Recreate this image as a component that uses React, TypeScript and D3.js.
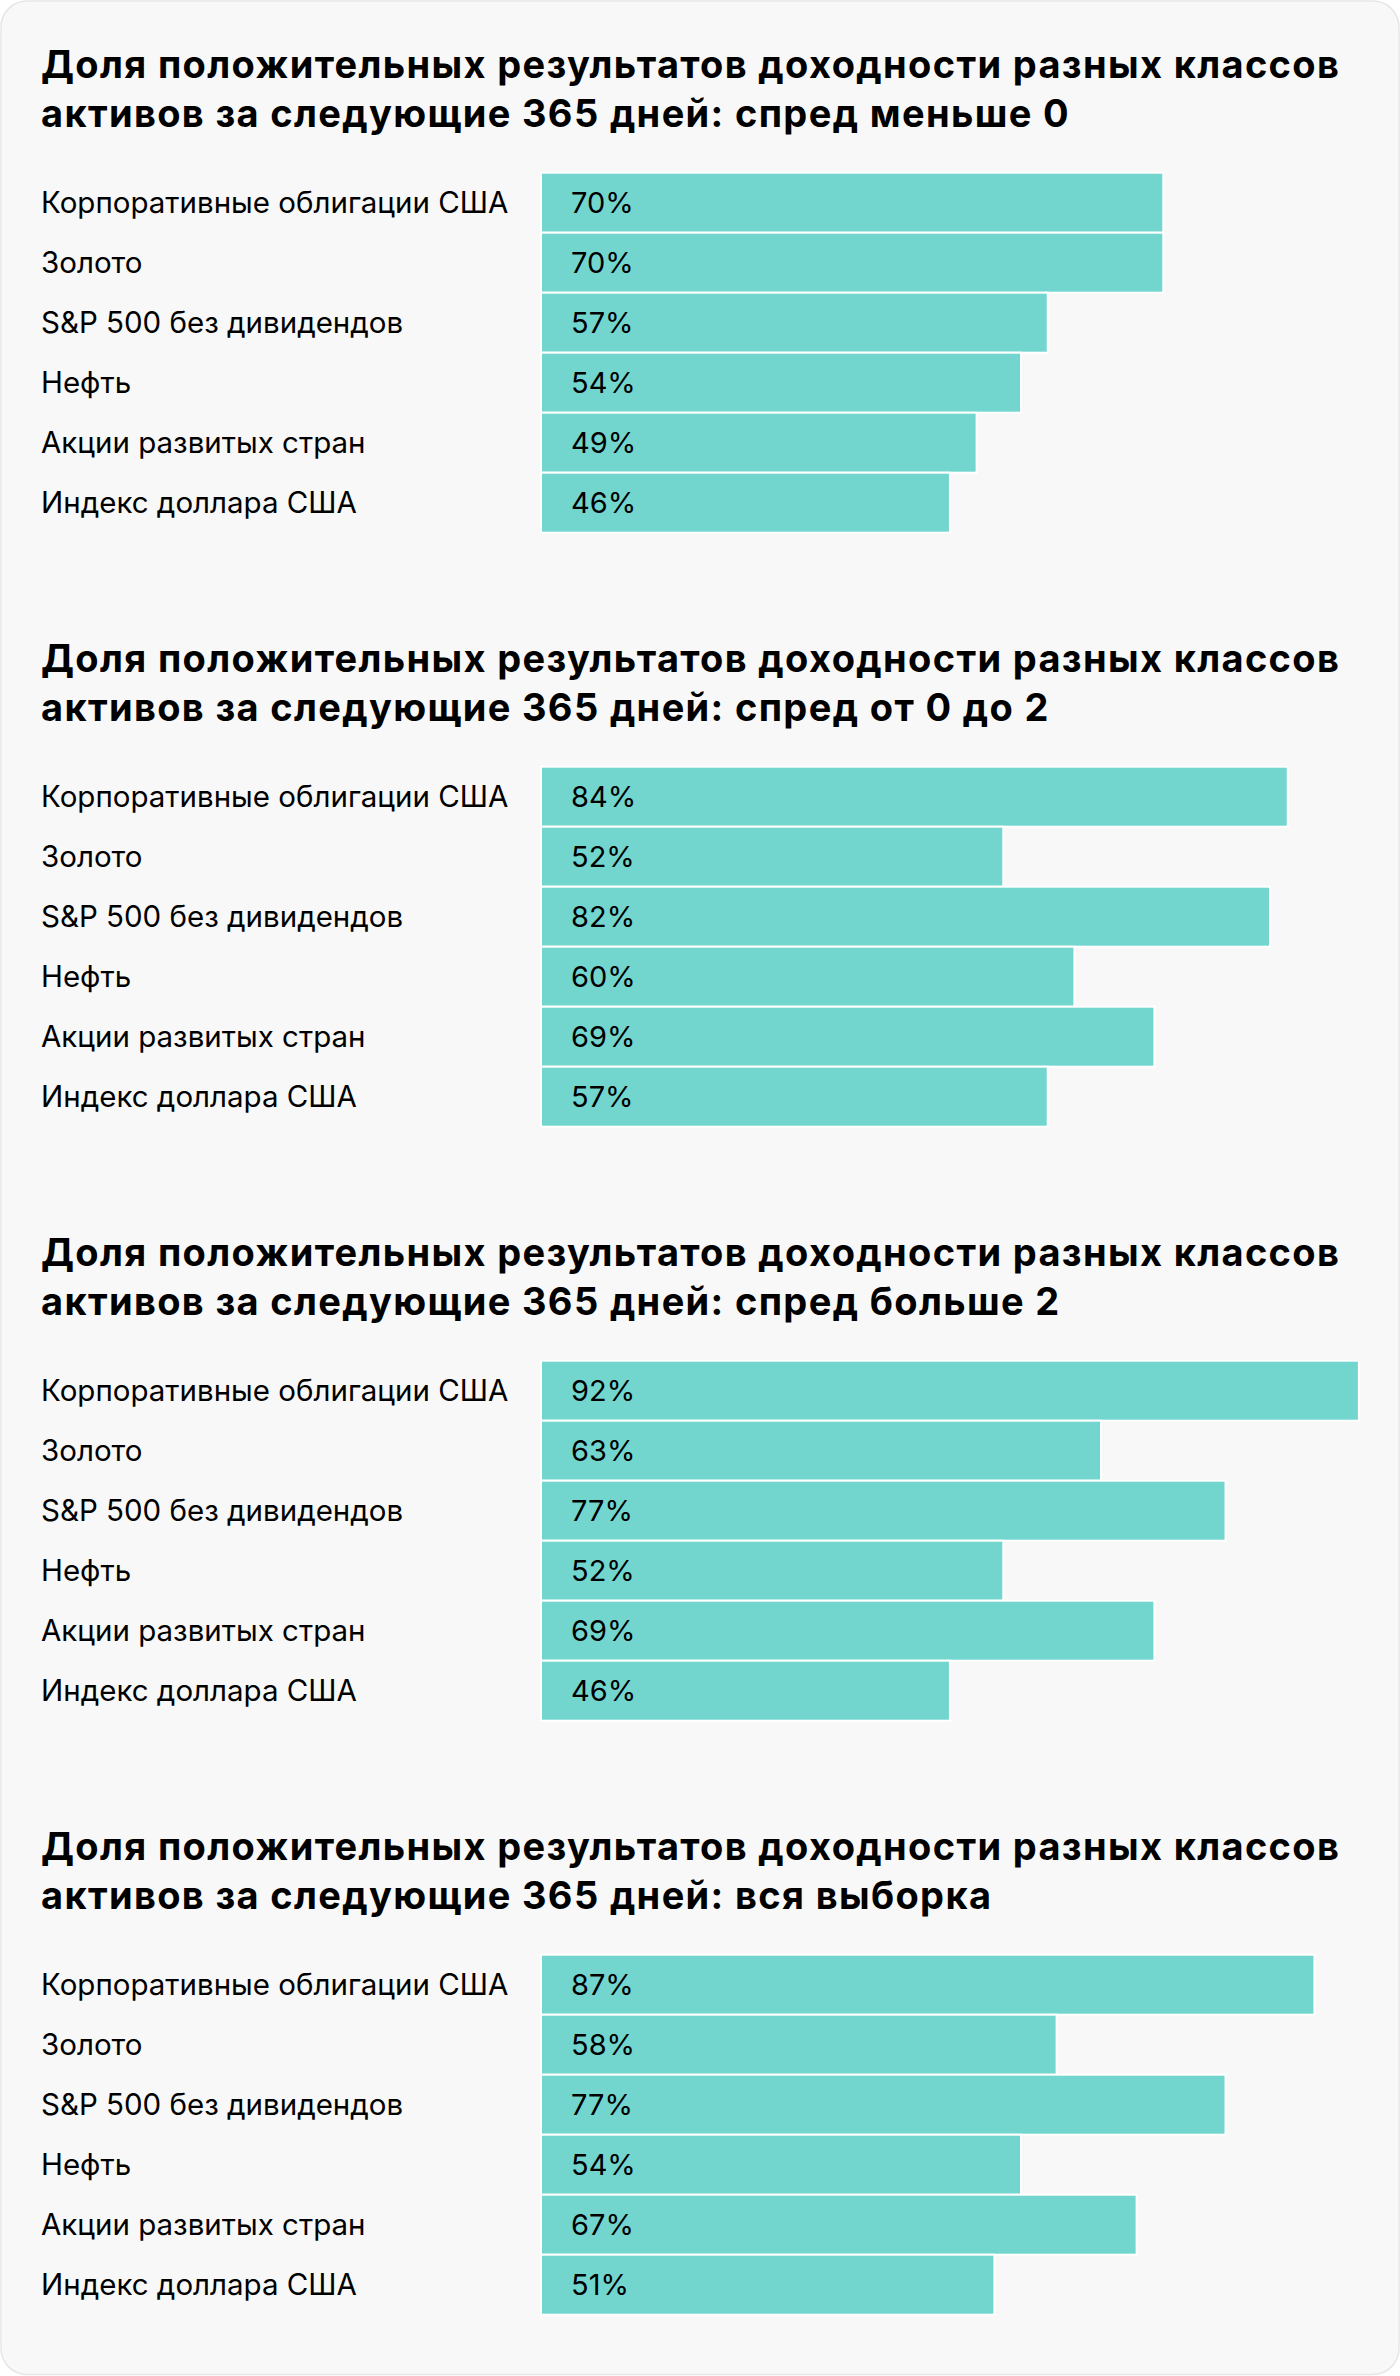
import React from "react";
import * as d3 from "d3";

const categories = [
  "Корпоративные облигации США",
  "Золото",
  "S&P 500 без дивидендов",
  "Нефть",
  "Акции развитых стран",
  "Индекс доллара США",
];

const titleLine1 = "Доля положительных результатов доходности разных классов";
const titleSuffixes = [
  "активов за следующие 365 дней: спред меньше 0",
  "активов за следующие 365 дней: спред от 0 до 2",
  "активов за следующие 365 дней: спред больше 2",
  "активов за следующие 365 дней: вся выборка",
];

const spreadBelow0 = [70, 70, 57, 54, 49, 46];
const spread0to2 = [84, 52, 82, 60, 69, 57];
const spreadAbove2 = [92, 63, 77, 52, 69, 46];
const fullSample = [87, 58, 77, 54, 67, 51];

const panelValues = [spreadBelow0, spread0to2, spreadAbove2, fullSample];

const W = 1400;
const H = 2376;
const PANEL_STEP = 594;
const BAR_LEFT = 541;
const BAR_TOP = 172.7;
const BAND = 60;
const FONT = "Inter, 'Noto Sans', Roboto, sans-serif";

export default function App() {
  const x = d3.scaleLinear().domain([0, 100]).range([0, 889]);
  const y = d3
    .scaleBand<string>()
    .domain(categories)
    .range([0, BAND * categories.length])
    .paddingInner(0)
    .paddingOuter(0);

  return (
    <svg
      width={W}
      height={H}
      viewBox={`0 0 ${W} ${H}`}
      style={{ position: "absolute", left: 0, top: 0, display: "block" }}
    >
      <rect x={0} y={0} width={W} height={H} fill="#ffffff" />
      <rect
        x={1}
        y={1}
        width={W - 2}
        height={H - 2.5}
        rx={26}
        ry={26}
        fill="#f8f8f8"
        stroke="#e6e6e6"
        strokeWidth={1.5}
      />
      {panelValues.map((vals, p) => {
        const oy = p * PANEL_STEP;
        return (
          <g key={p}>
            <text
              x={41}
              y={oy + 78}
              fontFamily={FONT}
              fontWeight={700}
              fontSize={38}
              letterSpacing={1.35}
              fill="#000"
            >
              {titleLine1}
            </text>
            <text
              x={41}
              y={oy + 126.5}
              fontFamily={FONT}
              fontWeight={700}
              fontSize={38}
              letterSpacing={1.35}
              fill="#000"
            >
              {titleSuffixes[p]}
            </text>
            <g transform={`translate(0, ${oy + BAR_TOP})`}>
              {categories.map((c, i) => {
                const by = y(c) as number;
                return (
                  <g key={c}>
                    <rect
                      x={BAR_LEFT}
                      y={by}
                      width={x(vals[i])}
                      height={y.bandwidth()}
                      fill="#72d6cf"
                      stroke="#ffffff"
                      strokeWidth={2}
                    />
                    <text
                      x={41}
                      y={by + y.bandwidth() / 2 + 10}
                      fontFamily={FONT}
                      fontSize={29.5}
                      fill="#000"
                    >
                      {c}
                    </text>
                    <text
                      x={571}
                      y={by + y.bandwidth() / 2 + 10}
                      fontFamily={FONT}
                      fontSize={29}
                      fill="#000"
                    >
                      {`${vals[i]}%`}
                    </text>
                  </g>
                );
              })}
            </g>
          </g>
        );
      })}
    </svg>
  );
}
